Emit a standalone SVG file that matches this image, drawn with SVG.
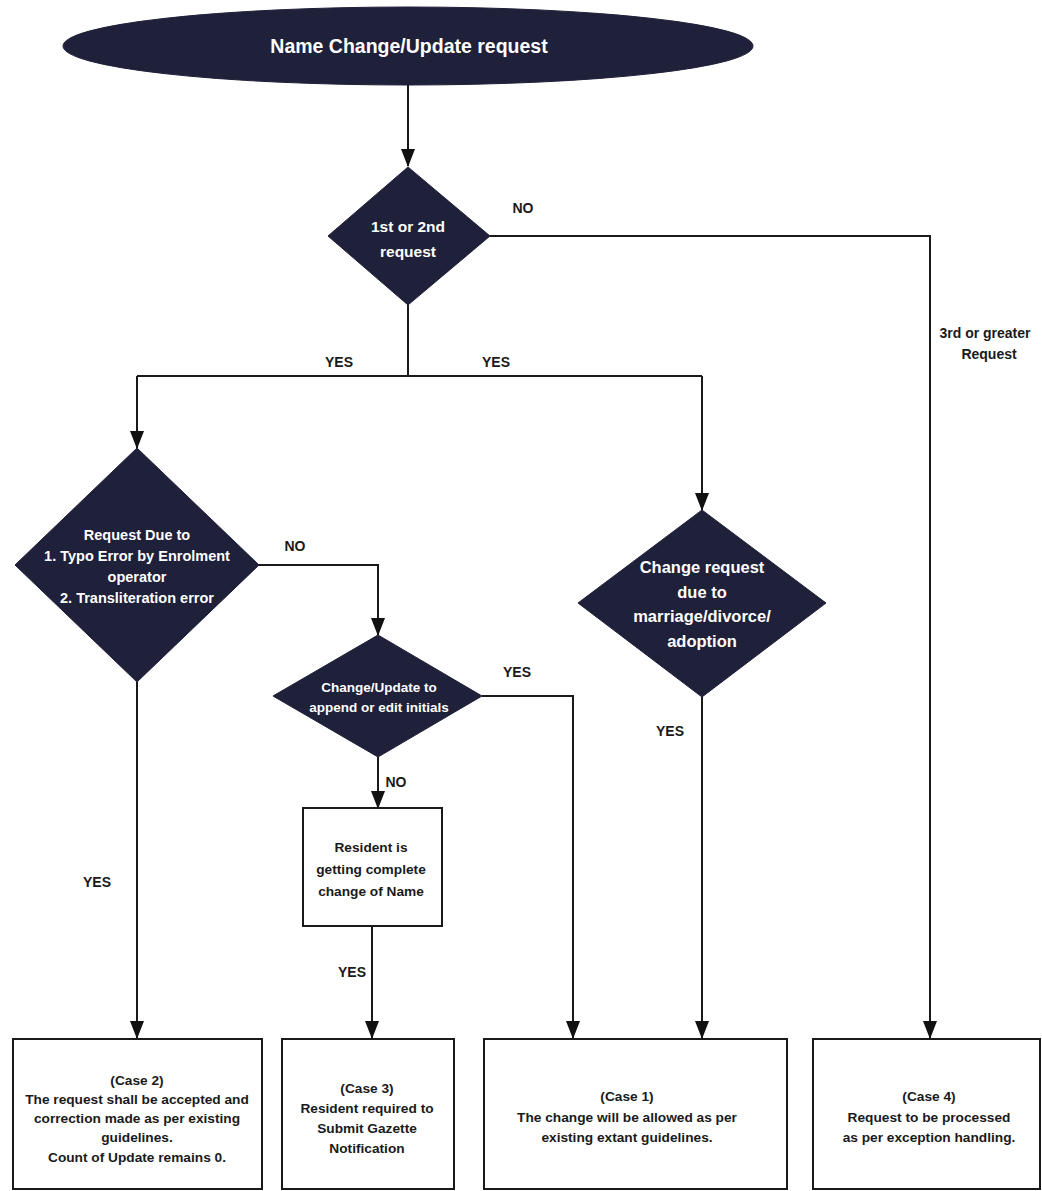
<svg xmlns="http://www.w3.org/2000/svg" width="1042" height="1191" viewBox="0 0 1042 1191">
<defs>
<marker id="arr" markerUnits="userSpaceOnUse" markerWidth="18" markerHeight="14" viewBox="0 0 18 14" refX="17" refY="7" orient="auto">
<path d="M0,0 L18,7 L0,14 Z" fill="#111"/>
</marker>
<style>
.dark{fill:#1f2039;stroke:#1f2039;stroke-width:1}
.box{fill:#fff;stroke:#1a1a1a;stroke-width:2}
.wt{font-family:"Liberation Sans",Arial,sans-serif;font-weight:bold;fill:#fff;text-anchor:middle}
.bt{font-family:"Liberation Sans",Arial,sans-serif;font-weight:bold;fill:#1a1a1a;text-anchor:middle;font-size:13.7px}
.lbl{font-family:"Liberation Sans",Arial,sans-serif;font-weight:bold;fill:#1a1a1a;font-size:14px;text-anchor:middle}
.ln{fill:none;stroke:#1a1a1a;stroke-width:2}
</style>
</defs>
<rect width="1042" height="1191" fill="#fff"/>

<g id="connectors">
<path class="ln" d="M408,85 V166" marker-end="url(#arr)"/>
<path class="ln" d="M490,236 H930 V1038" marker-end="url(#arr)"/>
<path class="ln" d="M408,305 V376"/>
<path class="ln" d="M137,376 H702"/>
<path class="ln" d="M137,376 V448" marker-end="url(#arr)"/>
<path class="ln" d="M702,376 V510" marker-end="url(#arr)"/>
<path class="ln" d="M259,565 H378 V635" marker-end="url(#arr)"/>
<path class="ln" d="M482,696 H573 V1038" marker-end="url(#arr)"/>
<path class="ln" d="M378,757 V808" marker-end="url(#arr)"/>
<path class="ln" d="M372,926 V1038" marker-end="url(#arr)"/>
<path class="ln" d="M702,697 V1038" marker-end="url(#arr)"/>
<path class="ln" d="M137,682 V1038" marker-end="url(#arr)"/>
<text class="lbl" x="523" y="213">NO</text>
<text class="lbl" x="985" y="338" font-size="15">3rd or greater</text>
<text class="lbl" x="989" y="359" font-size="15">Request</text>
<text class="lbl" x="339" y="367">YES</text>
<text class="lbl" x="496" y="367">YES</text>
<text class="lbl" x="295" y="551">NO</text>
<text class="lbl" x="517" y="677">YES</text>
<text class="lbl" x="396" y="787">NO</text>
<text class="lbl" x="670" y="736">YES</text>
<text class="lbl" x="97" y="887">YES</text>
<text class="lbl" x="352" y="977">YES</text>
</g>

<g id="start">
<ellipse class="dark" cx="408" cy="46" rx="345" ry="39"/>
<text class="wt" x="409" y="53" font-size="19.5">Name Change/Update request</text>
</g>

<g id="d-first-second">
<polygon class="dark" points="408,167 490,236 408,305 328,236"/>
<text class="wt" x="408" y="232" font-size="15.5">1st or 2nd</text>
<text class="wt" x="408" y="257" font-size="15.5">request</text>
</g>

<g id="d-typo">
<polygon class="dark" points="137,448 259,565 137,682 15,565"/>
<text class="wt" x="137" y="540" font-size="14.5">Request Due to</text>
<text class="wt" x="137" y="561" font-size="14.5">1. Typo Error by Enrolment</text>
<text class="wt" x="137" y="582" font-size="14.5">operator</text>
<text class="wt" x="137" y="603" font-size="14.5">2. Transliteration error</text>
</g>

<g id="d-marriage">
<polygon class="dark" points="702,510 826,603 702,697 578,603"/>
<text class="wt" x="702" y="573" font-size="16.5">Change request</text>
<text class="wt" x="702" y="598" font-size="16.5">due to</text>
<text class="wt" x="702" y="622" font-size="16.5">marriage/divorce/</text>
<text class="wt" x="702" y="647" font-size="16.5">adoption</text>
</g>

<g id="d-initials">
<polygon class="dark" points="378,635 482,696 378,757 273,696"/>
<text class="wt" x="379" y="692" font-size="13.5">Change/Update to</text>
<text class="wt" x="379" y="712" font-size="13.5">append or edit initials</text>
</g>

<g id="complete-change">
<rect class="box" x="303" y="808" width="139" height="118"/>
<text class="bt" x="371" y="852" font-size="15">Resident is</text>
<text class="bt" x="371" y="874" font-size="15">getting complete</text>
<text class="bt" x="371" y="896" font-size="15">change of Name</text>
</g>

<g id="case2">
<rect class="box" x="13" y="1039" width="249" height="150"/>
<text class="bt" x="137" y="1085">(Case 2)</text>
<text class="bt" x="137" y="1104">The request shall be accepted and</text>
<text class="bt" x="137" y="1123">correction made as per existing</text>
<text class="bt" x="137" y="1142">guidelines.</text>
<text class="bt" x="137" y="1162">Count of Update remains 0.</text>
</g>

<g id="case3">
<rect class="box" x="282" y="1039" width="172" height="150"/>
<text class="bt" x="367" y="1093">(Case 3)</text>
<text class="bt" x="367" y="1113">Resident required to</text>
<text class="bt" x="367" y="1133">Submit Gazette</text>
<text class="bt" x="367" y="1153">Notification</text>
</g>

<g id="case1">
<rect class="box" x="484" y="1039" width="303" height="150"/>
<text class="bt" x="627" y="1101">(Case 1)</text>
<text class="bt" x="627" y="1122">The change will be allowed as per</text>
<text class="bt" x="627" y="1142">existing extant guidelines.</text>
</g>

<g id="case4">
<rect class="box" x="813" y="1039" width="227" height="150"/>
<text class="bt" x="929" y="1101">(Case 4)</text>
<text class="bt" x="929" y="1122">Request to be processed</text>
<text class="bt" x="929" y="1142">as per exception handling.</text>
</g>
</svg>
